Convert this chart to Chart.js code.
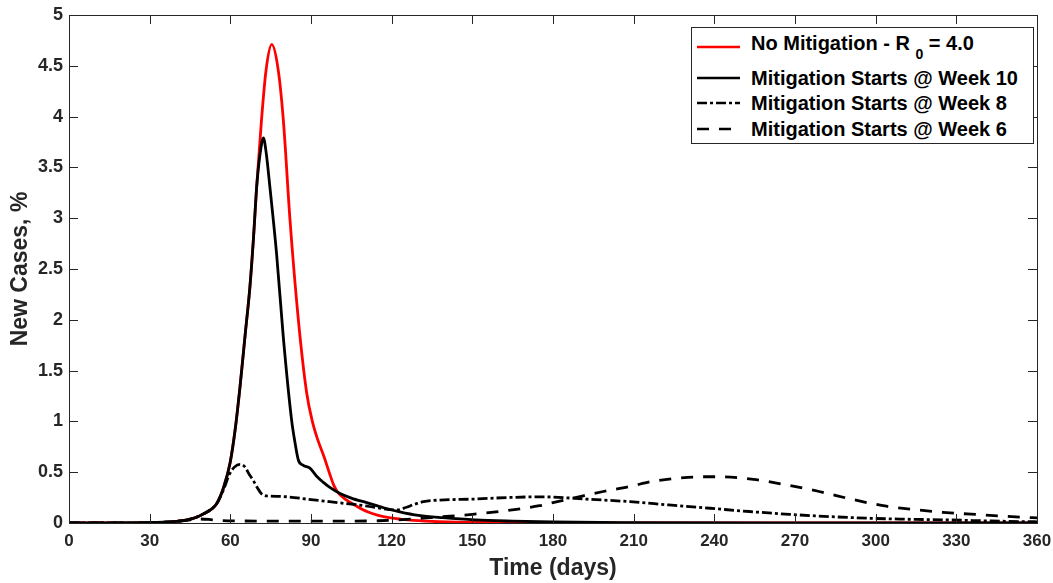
<!DOCTYPE html>
<html>
<head>
<meta charset="utf-8">
<script src="https://cdn.jsdelivr.net/npm/chart.js@4"></script>
<style>
  body { margin: 0; background: #fff; }
  #wrap { position: relative; width: 1053px; height: 583px; }
  #legend {
    position: absolute; left: 691px; top: 27px; width: 341px; height: 115px;
    border: 1px solid #262626; background: #fff;
    font-family: "Liberation Sans", Arial, sans-serif; font-weight: bold; font-size: 20px; color: #000;
  }
  .row { position: absolute; left: 0; height: 24px; line-height: 24px; white-space: nowrap; }
  .row svg { position: absolute; left: 5px; top: 7px; }
  .row span { position: absolute; left: 59px; top: 0; }
  sub { font-size: 14px; vertical-align: -9px; line-height: 0; }
</style>
</head>
<body>
<div id="wrap">
  <canvas id="chart" width="1053" height="583"></canvas>
  <div id="legend"></div>
</div>
<script>
// days and new cases (%)
const noMitDays  = [0, 10, 20, 30, 40, 46.2, 50, 54.9, 57.5, 59.9, 61.8, 63.6, 65.5, 67.3, 68.6, 69.8, 71.6, 73.3, 75.4, 77.8, 79.7, 82.2, 85.3, 88.4, 90.5, 92.5, 95, 97, 98.5, 100, 103, 107, 111, 115, 119, 126, 135, 150, 180, 250, 360];
const noMitCases = [0, 0.0003, 0.001, 0.004, 0.016, 0.046, 0.09, 0.19, 0.35, 0.59, 0.92, 1.34, 1.85, 2.33, 2.8, 3.31, 3.97, 4.46, 4.71, 4.46, 3.97, 2.98, 2.0, 1.28, 1.0, 0.82, 0.64, 0.48, 0.37, 0.3, 0.23, 0.165, 0.11, 0.075, 0.052, 0.03, 0.015, 0.006, 0.002, 0, 0];

const week10Days  = [0, 10, 20, 30, 40, 46.2, 50, 54.9, 57.5, 59.9, 61.8, 63.6, 65.5, 67.3, 68.6, 69.8, 71, 72.3, 73.3, 74.7, 77.2, 79.7, 82.8, 84, 85.3, 87, 89.6, 92.1, 94.6, 97, 100.8, 105, 110.7, 117, 123, 130, 139, 151, 165, 180, 210, 260, 360];
const week10Cases = [0, 0.0003, 0.001, 0.004, 0.016, 0.046, 0.09, 0.19, 0.35, 0.59, 0.92, 1.34, 1.85, 2.33, 2.8, 3.31, 3.62, 3.79, 3.65, 3.31, 2.65, 1.83, 1.01, 0.8, 0.62, 0.57, 0.54, 0.46, 0.4, 0.35, 0.29, 0.245, 0.2, 0.15, 0.11, 0.075, 0.052, 0.03, 0.018, 0.01, 0.004, 0.001, 0];

const week8Days  = [0, 10, 20, 30, 40, 46.2, 50, 54.9, 57.5, 59.5, 61.5, 63.6, 65.5, 67, 68.5, 70, 71.5, 73.5, 78.5, 90, 100, 110, 121.8, 125.5, 128.5, 131.8, 138, 150, 162.8, 175, 180, 192.5, 208.6, 223, 238.4, 253, 268, 283, 297.9, 312, 327.6, 342, 356, 360];
const week8Cases = [0, 0.0003, 0.001, 0.004, 0.016, 0.046, 0.09, 0.19, 0.33, 0.47, 0.55, 0.578, 0.55, 0.48, 0.42, 0.35, 0.29, 0.266, 0.262, 0.23, 0.2, 0.17, 0.128, 0.155, 0.185, 0.21, 0.226, 0.235, 0.25, 0.258, 0.255, 0.235, 0.21, 0.178, 0.145, 0.113, 0.085, 0.063, 0.046, 0.037, 0.03, 0.02, 0.013, 0.012];

const week6Days  = [0, 10, 20, 30, 40, 45, 48, 52, 56, 65, 80, 100, 115, 125.6, 138, 150, 162, 175, 180, 190, 198.7, 208.6, 217, 226, 236, 242, 254.5, 266.9, 279, 291.7, 304, 315, 325, 340, 353.6, 360];
const week6Cases = [0, 0.0003, 0.001, 0.004, 0.015, 0.03, 0.04, 0.035, 0.025, 0.02, 0.018, 0.018, 0.022, 0.035, 0.06, 0.085, 0.12, 0.17, 0.2, 0.26, 0.31, 0.36, 0.41, 0.44, 0.455, 0.455, 0.43, 0.374, 0.31, 0.23, 0.165, 0.13, 0.105, 0.08, 0.058, 0.05];

const xTicks = [0, 30, 60, 90, 120, 150, 180, 210, 240, 270, 300, 330, 360];
const yTicks = [0, 0.5, 1, 1.5, 2, 2.5, 3, 3.5, 4, 4.5, 5];

const seriesLabels = [
  'No Mitigation - R <sub>0</sub> = 4.0',
  'Mitigation Starts @ Week 10',
  'Mitigation Starts @ Week 8',
  'Mitigation Starts @ Week 6'
];

const axisColor = '#262626';
const fontFamily = '"Liberation Sans", Arial, sans-serif';

function zip(days, cases) {
  return days.map((d, i) => ({ x: d, y: cases[i] }));
}

// MATLAB style box with inward ticks on all four sides
const boxAxes = {
  id: 'boxAxes',
  afterDatasetsDraw(chart) {
    const { ctx, chartArea: a, scales } = chart;
    const len = 9;
    ctx.save();
    ctx.strokeStyle = axisColor;
    ctx.lineWidth = 1;
    ctx.beginPath();
    xTicks.forEach(v => {
      const px = Math.round(scales.x.getPixelForValue(v)) + 0.5;
      ctx.moveTo(px, a.bottom); ctx.lineTo(px, a.bottom - len);
      ctx.moveTo(px, a.top); ctx.lineTo(px, a.top + len);
    });
    yTicks.forEach(v => {
      const py = Math.round(scales.y.getPixelForValue(v)) + 0.5;
      ctx.moveTo(a.left, py); ctx.lineTo(a.left + len, py);
      ctx.moveTo(a.right, py); ctx.lineTo(a.right - len, py);
    });
    ctx.stroke();
    ctx.strokeRect(Math.round(a.left) + 0.5, Math.round(a.top) + 0.5,
                   Math.round(a.right - a.left), Math.round(a.bottom - a.top));
    ctx.restore();
  }
};

const styles = [
  { color: '#ff0000', dash: [] },
  { color: '#000000', dash: [] },
  { color: '#000000', dash: [10, 3, 3, 3] },
  { color: '#000000', dash: [12, 10] }
];

new Chart(document.getElementById('chart'), {
  type: 'line',
  data: {
    datasets: [
      { data: zip(noMitDays, noMitCases), order: 4 },
      { data: zip(week10Days, week10Cases), order: 1 },
      { data: zip(week8Days, week8Cases), order: 2 },
      { data: zip(week6Days, week6Cases), order: 3 }
    ].map((ds, i) => Object.assign(ds, {
      borderColor: styles[i].color,
      borderDash: styles[i].dash,
      borderWidth: 2.8,
      pointRadius: 0,
      fill: false,
      cubicInterpolationMode: 'monotone'
    }))
  },
  options: {
    responsive: false,
    animation: false,
    events: [],
    layout: { padding: { left: 0, right: 16, top: 15, bottom: 0 } },
    plugins: { legend: { display: false }, tooltip: { enabled: false } },
    scales: {
      x: {
        type: 'linear', min: 0, max: 360,
        afterBuildTicks: s => { s.ticks = xTicks.map(v => ({ value: v })); },
        afterFit: s => { s.height = 60; s.paddingLeft = 0; s.paddingRight = 0; },
        grid: { display: false, drawTicks: false },
        border: { display: false },
        ticks: {
          padding: 8, color: axisColor, maxRotation: 0,
          font: { family: fontFamily, size: 17, weight: 'bold' },
          callback: v => String(v)
        },
        title: {
          display: true, text: 'Time (days)', color: axisColor,
          font: { family: fontFamily, size: 23, weight: 'bold' },
          padding: { top: 0, bottom: 1 }
        }
      },
      y: {
        type: 'linear', min: 0, max: 5,
        afterBuildTicks: s => { s.ticks = yTicks.map(v => ({ value: v })); },
        afterFit: s => { s.width = 69; s.paddingTop = 0; s.paddingBottom = 0; },
        grid: { display: false, drawTicks: false },
        border: { display: false },
        ticks: {
          padding: 6, color: axisColor,
          font: { family: fontFamily, size: 18, weight: 'bold' },
          callback: v => String(v)
        },
        title: {
          display: true, text: 'New Cases, %', color: axisColor,
          font: { family: fontFamily, size: 23, weight: 'bold' },
          padding: { top: 7, bottom: 0 }
        }
      }
    }
  },
  plugins: [boxAxes]
});

// legend with subscript, drawn as HTML
const rowTops = [2.5, 38, 62.5, 88.5];
const lineShift = [4.5, 0, 0, 0];
const legend = document.getElementById('legend');
seriesLabels.forEach((label, i) => {
  const row = document.createElement('div');
  row.className = 'row';
  row.style.top = rowTops[i] + 'px';
  const dash = styles[i].dash.join(',');
  row.innerHTML =
    '<svg width="44" height="10" style="top:' + (7 + lineShift[i]) + 'px"><line x1="0" y1="5" x2="43" y2="5" stroke="' +
    styles[i].color + '" stroke-width="2.5"' + (dash ? ' stroke-dasharray="' + dash + '"' : '') + '/></svg>' +
    '<span>' + label + '</span>';
  legend.appendChild(row);
});
</script>
</body>
</html>
